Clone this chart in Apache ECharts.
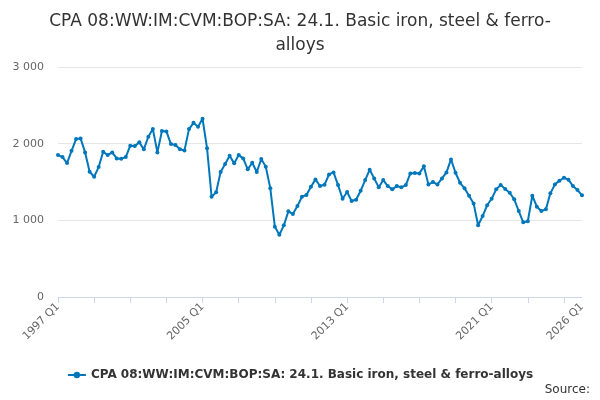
<!DOCTYPE html>
<html>
<head>
<meta charset="utf-8">
<script src="https://cdn.jsdelivr.net/npm/echarts@6/dist/echarts.min.js"></script>
<style>html,body{margin:0;padding:0;background:#fff}#container{width:600px;height:400px}</style>
</head>
<body>
<div id="container"></div>
<script>
var seriesName = 'CPA 08:WW:IM:CVM:BOP:SA: 24.1. Basic iron, steel & ferro-alloys';
var values = [
    1851, 1825, 1747, 1907, 2060, 2069, 1886, 1634, 1569, 1695, 1895, 1851,
    1886, 1808, 1803, 1825, 1973, 1969, 2017, 1926, 2090, 2190, 1886, 2164,
    2160, 1995, 1982, 1926, 1912, 2190, 2272, 2220, 2325, 1939, 1308, 1365,
    1630, 1734, 1842, 1743, 1851, 1808, 1665, 1751, 1630, 1799, 1699, 1417,
    917, 812, 935, 1117, 1082, 1186, 1308, 1330, 1438, 1534, 1447, 1464,
    1599, 1625, 1460, 1282, 1369, 1252, 1269, 1386, 1525, 1660, 1547, 1430,
    1525, 1447, 1404, 1447, 1430, 1460, 1612, 1616, 1612, 1704, 1469, 1499,
    1469, 1547, 1625, 1795, 1621, 1490, 1417, 1321, 1221, 935, 1056, 1196,
    1282, 1404, 1460, 1408, 1360, 1274, 1121, 974, 987, 1321, 1178, 1121,
    1143, 1352, 1469, 1516, 1555, 1530, 1447, 1395, 1326
];
var categories = [];
for (var i = 0; i < values.length; i++) {
    categories.push((1997 + Math.floor(i / 4)) + ' Q' + (i % 4 + 1));
}
var yTicks = [0, 1000, 2000, 3000];

var chart = echarts.init(document.getElementById('container'));
chart.setOption({
    animation: false,
    title: {
        text: 'CPA 08:WW:IM:CVM:BOP:SA: 24.1. Basic iron, steel & ferro-\nalloys',
        left: 'center', top: 5,
        textStyle: { fontFamily: 'DejaVu Sans', fontSize: 17, fontWeight: 'normal', color: '#333', lineHeight: 24 }
    },
    grid: { left: 58, right: 18, top: 67, bottom: 103 },
    legend: {
        bottom: 14, left: 'center',
        data: [{ name: seriesName }],
        itemWidth: 18, itemHeight: 8,
        textStyle: { fontFamily: 'DejaVu Sans', fontSize: 12, fontWeight: 'bold', color: '#333' }
    },
    graphic: [{
        type: 'text', right: 10, bottom: 4,
        style: { text: 'Source:', font: '12px "DejaVu Sans"', fill: '#333' }
    }],
    xAxis: {
        type: 'category', data: categories, boundaryGap: false,
        axisLine: { lineStyle: { color: '#ccd6eb' } },
        axisTick: { interval: 7, length: 6, lineStyle: { color: '#ccd6eb' } },
        axisLabel: {
            rotate: 45, color: '#666', fontFamily: 'DejaVu Sans', fontSize: 11,
            interval: function (idx) { return idx % 32 === 0 || idx === values.length - 1; }
        }
    },
    yAxis: {
        type: 'value', min: yTicks[0], max: yTicks[yTicks.length - 1], interval: 1000,
        splitLine: { lineStyle: { color: '#e6e6e6' } },
        axisLabel: {
            color: '#666', fontFamily: 'DejaVu Sans', fontSize: 11, margin: 14,
            formatter: function (v) { return String(v).replace(/\B(?=(\d{3})+(?!\d))/g, ' '); }
        }
    },
    series: [{
        name: seriesName, type: 'line', data: values,
        color: '#0077bb',
        symbol: 'circle', symbolSize: 4, showSymbol: true, showAllSymbol: true,
        lineStyle: { width: 2 }
    }]
});
</script>
</body>
</html>
